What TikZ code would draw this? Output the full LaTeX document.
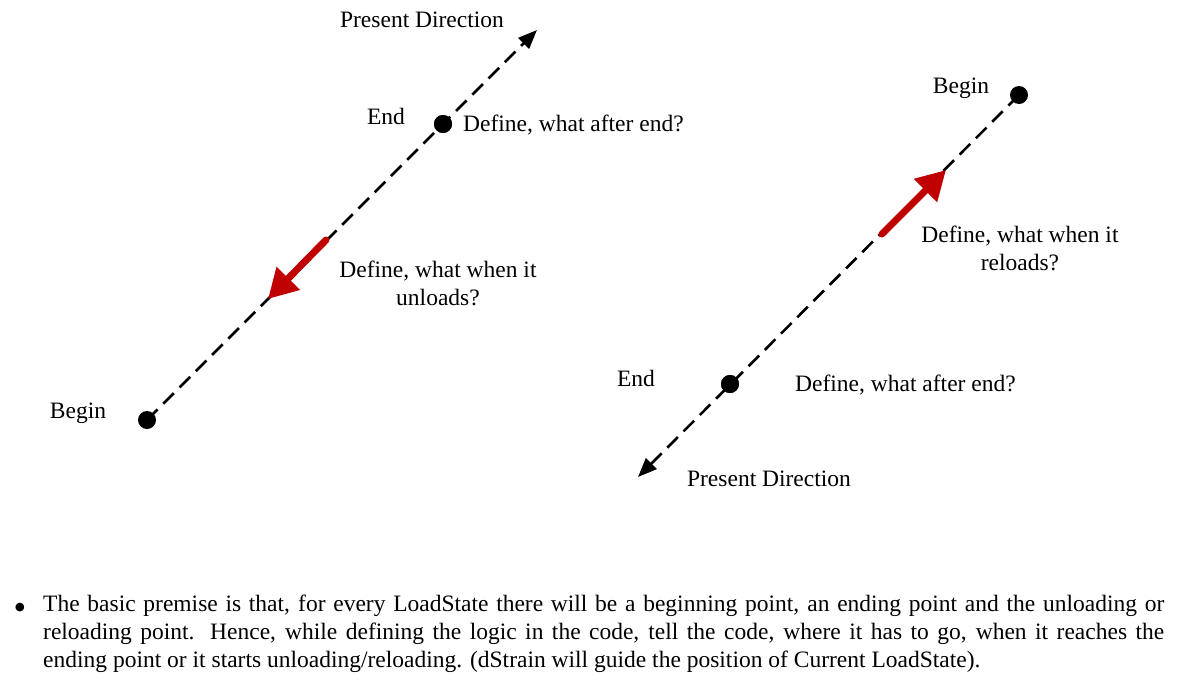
\documentclass[tikz,border=0pt]{standalone}
\usepackage{fontspec}
\setmainfont{Liberation Serif}
\usetikzlibrary{arrows.meta}

\tikzset{
  dot/.style={circle,fill=black,inner sep=0pt,minimum size=18pt},
  lbl/.style={font=\fontsize{23.5}{28}\selectfont,inner sep=0pt},
  track/.style={line width=2.6pt,dash pattern=on 15pt off 8pt,-{Triangle[length=19pt,width=15pt]}},
  move/.style={line width=7pt,draw={rgb,255:red,192;green,0;blue,0},line cap=round,-{Triangle[length=29pt,width=31pt,fill={rgb,255:red,192;green,0;blue,0}]}}
}

\begin{document}
\begin{tikzpicture}[x=1pt,y=-1pt]
\useasboundingbox (0,0) rectangle (1184,694);
\node[dot] (beginL) at (147,420) {};
\node[dot] (endL) at (443,124) {};
\coordinate (dirL) at (537,30);
\draw[track] (beginL.center) -- (dirL);
\node[dot] at (endL) {};
\coordinate (unloadA) at (326,240);
\coordinate (unloadB) at (268,299);
\draw[move] (unloadA) -- (unloadB);
\node[lbl] (presL) at (422,20) {Present Direction};
\node[lbl] (endtxtL) at (386,116) {End};
\node[lbl,anchor=west] (afterL) at (463,125) {Define, what after end?};
\node[lbl,align=center] (unloadtxt) at (438,283) {Define, what when it\\unloads?};
\node[lbl] (begintxtL) at (78,413) {Begin};

\node[dot] (beginR) at (1019,95) {};
\node[dot] (endR) at (730,384) {};
\coordinate (dirR) at (638,477);
\draw[track] (beginR.center) -- (dirR);
\node[dot] at (endR) {};
\coordinate (reloadA) at (882,234);
\coordinate (reloadB) at (946,170);
\draw[move] (reloadA) -- (reloadB);
\node[lbl] (begintxtR) at (961,88) {Begin};
\node[lbl,align=center] (reloadtxt) at (1020,248) {Define, what when it\\reloads?};
\node[lbl] (endtxtR) at (636,378) {End};
\node[lbl,anchor=west] (afterR) at (795,385) {Define, what after end?};
\node[lbl] (presR) at (769,479) {Present Direction};

\node[lbl,font=\fontsize{36}{36}\selectfont] (bullet) at (20,611) {\textbullet};
\node[lbl,anchor=north west,text width=1121pt,align=justify] (premise) at (43,595)
  {The basic premise is that, for every LoadState there will be a beginning point, an ending point and the unloading or reloading point. Hence, while defining the logic in the code, tell the code, where it has to go, when it reaches the\linebreak ending point or it starts unloading/reloading. (dStrain will guide the position of Current LoadState).};
\end{tikzpicture}
\end{document}
